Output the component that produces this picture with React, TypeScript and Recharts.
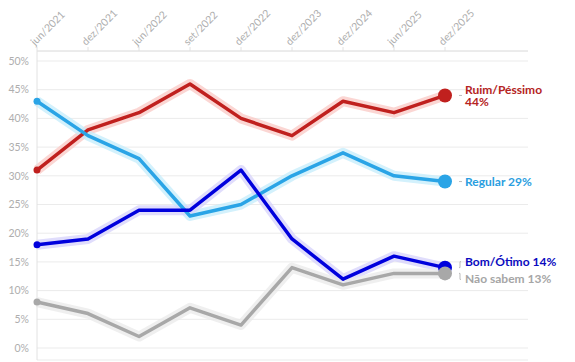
import { CartesianGrid, Line, LineChart, XAxis, YAxis } from 'recharts'

const periodos = ['jun/2021', 'dez/2021', 'jun/2022', 'set/2022', 'dez/2022', 'dez/2023', 'dez/2024', 'jun/2025', 'dez/2025']
const ruimPessimo = [31, 38, 41, 46, 40, 37, 43, 41, 44]
const regular = [43, 37, 33, 23, 25, 30, 34, 30, 29]
const bomOtimo = [18, 19, 24, 24, 31, 19, 12, 16, 14]
const naoSabem = [8, 6, 2, 7, 4, 14, 11, 13, 13]
const yTicks = [0, 5, 10, 15, 20, 25, 30, 35, 40, 45, 50]

const dados = periodos.map((p, i) => ({
  periodo: p,
  ruim: ruimPessimo[i],
  regular: regular[i],
  bom: bomOtimo[i],
  nao: naoSabem[i],
}))

const series = [
  { key: 'ruim', nome: 'Ruim/Péssimo', cor: '#c0201e', texto: '#b52322', halo: '#f9c8c4', dy: 0, quebra: true },
  { key: 'regular', nome: 'Regular', cor: '#2aa4e6', texto: '#2a9ee0', halo: '#c4ecfb', dy: 0, quebra: false },
  { key: 'bom', nome: 'Bom/Ótimo', cor: '#0000dd', texto: '#0a0ac0', halo: '#d6d2fb', dy: -6, quebra: false },
  { key: 'nao', nome: 'Não sabem', cor: '#a8a8a8', texto: '#a6a6a6', halo: '#eaeaea', dy: 6, quebra: false },
]

const fonte = 'Lato, "Noto Sans", sans-serif'

const TickX = (props: any) => {
  const { x, y, payload } = props
  const px = x - 2
  const py = y + 1
  return (
    <text x={px} y={py} transform={`rotate(-45, ${px}, ${py})`} textAnchor="start"
      fill="#aeaeae" fontSize={10.5} fontFamily={fonte}>
      {payload.value}
    </text>
  )
}

const makeDot = (s: typeof series[number]) => (props: any) => {
  const { cx, cy, index, value } = props
  if (index === 0) return <circle key={`d${index}`} cx={cx} cy={cy} r={3.5} fill={s.cor} />
  if (index !== periodos.length - 1) return <g key={`d${index}`} />
  const tx = cx + 20
  const ty = cy + s.dy
  const estilo = { fill: s.texto, fontSize: 12, fontWeight: 700, fontFamily: fonte }
  return (
    <g key={`d${index}`}>
      <circle cx={cx} cy={cy} r={7} fill={s.cor} />
      {s.dy === 0 ? (
        <line x1={cx + 14} x2={cx + 17} y1={cy} y2={cy} stroke="#bbb" strokeWidth={1} />
      ) : (
        <path d={`M${cx + 14},${cy} L${cx + 15},${cy} L${cx + 15},${ty} L${cx + 16},${ty}`} stroke="#bbb" strokeWidth={1} fill="none" />
      )}
      {s.quebra ? (
        <g>
          <text x={tx} y={ty - 1.5} {...estilo}>{s.nome}</text>
          <text x={tx} y={ty + 11} {...estilo}>{value}%</text>
        </g>
      ) : (
        <text x={tx} y={ty + 4} {...estilo}>
          {s.nome} {value}%
        </text>
      )}
    </g>
  )
}

export default function App() {
  return (
    <LineChart width={567} height={354} data={dados} margin={{ top: 0, right: 47, bottom: 2, left: 0 }}
      style={{ overflow: 'visible' }}>
      <CartesianGrid vertical={false} stroke="#ebebeb" />
      <XAxis dataKey="periodo" orientation="top" height={43} interval={0} padding={{ left: 0, right: 83 }}
        axisLine={{ stroke: '#e2e2e2' }} tickLine={{ stroke: '#e2e2e2' }} tickSize={4} tick={<TickX />} />
      <YAxis domain={[0, 50]} ticks={yTicks} width={29} padding={{ top: 10, bottom: 12 }}
        tickFormatter={(v) => `${v}%`} axisLine={{ stroke: '#e2e2e2' }} tickLine={false}
        tick={{ fill: '#aeaeae', fontSize: 10.5, fontFamily: fonte }} />
      {series.map((s) => (
        <Line key={`h-${s.key}`} dataKey={s.key} stroke={s.halo} strokeWidth={10} strokeOpacity={0.75}
          dot={false} activeDot={false} isAnimationActive={false} type="linear" strokeLinejoin="round" />
      ))}
      {series.map((s) => (
        <Line key={s.key} dataKey={s.key} stroke={s.cor} strokeWidth={3.5} dot={makeDot(s)} activeDot={false}
          isAnimationActive={false} type="linear" strokeLinejoin="round" />
      ))}
    </LineChart>
  )
}
